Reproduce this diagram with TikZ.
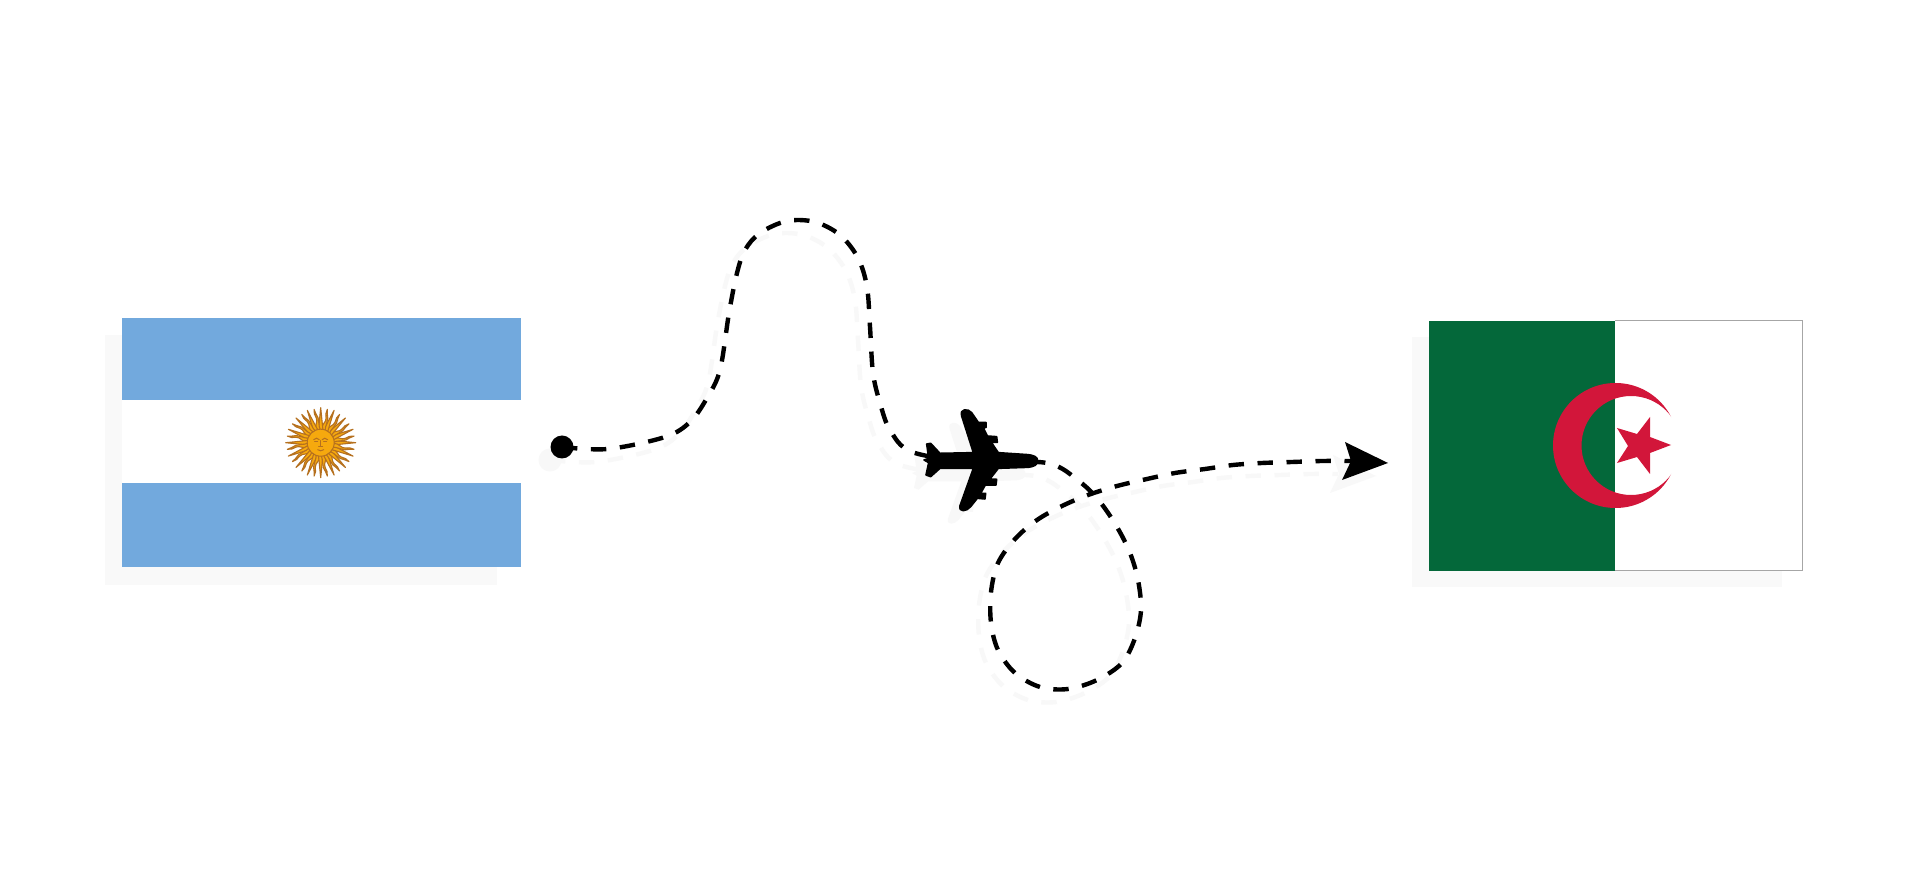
\documentclass[tikz,border=0pt]{standalone}
\usepackage{tikz}
\definecolor{skyb}{HTML}{72A9DD}
\definecolor{agreen}{HTML}{04683A}
\definecolor{ared}{HTML}{D2163A}
\definecolor{softgrey}{HTML}{F8F8F8}
\definecolor{flagshadow}{HTML}{F9F9F9}
\definecolor{sunfill}{HTML}{F6A90E}
\definecolor{sunedge}{HTML}{B5701F}
\tikzset{
  routeline/.style={line width=2.2pt,dash pattern=on 7.7pt off 6.8pt},
  rayline/.style={fill=sunfill,draw=sunedge,line width=0.55pt,line join=round},
  facemark/.style={draw=sunedge,line width=0.5pt,line cap=round}
}
\newcommand{\drawroute}[3]{%
  \draw[routeline,draw=#1] plot[smooth,tension=0.55] coordinates {(#2) (608,449) (665,437) (690,422) (707,398) (720,370) (729,313) (737,273) (745,250) (760,233) (787,221) (815,222) (840,235) (858,258) (867,287) (870,327) (873,373) (880,403) (890,430) (912,452) (975,462) (1047,463) (1080,482) (1100,502) (1117,527) (1130,553) (1138,580) (1141,610) (1135,638) (1122,663) (1097,680) (1068,689) (1040,687) (1015,673) (998,650) (991,623) (991,592) (998,563) (1015,539) (1037,520) (1062,506) (1088,495) (1117,486) (1147,479) (1175,473) (1205,469) (1233,465) (1262,463) (1292,462) (1322,461) (#3)};%
}
\newcommand{\planeshape}{%
  (413,212) .. controls (413,200) and (400,196) .. (385,194)
  -- (295,188) -- (274,157) -- (292,157) -- (290,140) -- (262,138) -- (250,113) -- (258,113) -- (258,97) -- (235,97)
  -- (215,68) .. controls (205,55) and (178,55) .. (185,78)
  -- (220,188) -- (120,190) -- (92,160) -- (80,162) -- (86,205) -- (72,210) -- (86,218) -- (78,255) -- (92,260) -- (120,235)
  -- (220,235) -- (180,347) .. controls (175,368) and (200,365) .. (212,350)
  -- (232,325) -- (255,327) -- (257,310) -- (242,310) -- (256,285) -- (288,285) -- (290,268) -- (270,267) -- (295,235)
  -- (385,232) .. controls (400,230) and (413,226) .. (413,212) -- cycle}
\begin{document}
\begin{tikzpicture}[x=0.5pt,y=-0.5pt]
\useasboundingbox (0,0) rectangle (1920,886);
\fill[white] (0,0) rectangle (1920,886);
% flag shadows
\fill[flagshadow] (105,335) rectangle (497,585);
\fill[flagshadow] (1412,337) rectangle (1782,587);
% Argentina
\fill[skyb] (121.5,318) rectangle (521,400);
\fill[white] (121.5,400) rectangle (521,483);
\fill[skyb] (121.5,483) rectangle (521,567);
\begin{scope}[shift={(320.7,442.7)}]
  \foreach \a in {0,22.5,...,337.5}{
    \fill[rayline,rotate=\a] (13,-2.2) -- (35,0) -- (13,2.2) -- cycle;
    \fill[rayline,rotate=\a+11.25] (13,-2) .. controls (18,-3) and (21,1.5) .. (25,0.5) .. controls (28,-0.2) and (31,-1.5) .. (34,0) .. controls (31,0) and (28,1.6) .. (25,2.3) .. controls (21,3) and (18,1) .. (13,2) -- cycle;
  }
  \fill[sunfill,draw=sunedge,line width=0.5pt] (0,0) circle (13.5);
  \draw[facemark] (-7,-3) .. controls (-5,-5) and (-3,-5) .. (-1.5,-3);
  \draw[facemark] (7,-3) .. controls (5,-5) and (3,-5) .. (1.5,-3);
  \draw[facemark] (-6,-1.5) -- (-3,-1.5) (6,-1.5) -- (3,-1.5);
  \draw[facemark] (0,-2) -- (0,3) (-2,3.5) -- (2,3.5);
  \draw[facemark] (-3,7) .. controls (-1,8.5) and (1,8.5) .. (3,7);
\end{scope}
% Algeria
\fill[white] (1429,321) rectangle (1802,571);
\fill[agreen] (1429,321) rectangle (1615,571);
\draw[black!35,line width=0.5pt] (1615,321) -- (1802,321) -- (1802,571) -- (1615,571);
\begin{scope}
  \clip (1615.5,445.5) circle (62.5);
  \fill[ared,even odd rule] (1540,370) rectangle (1700,520) (1631,445.5) circle (49.5);
\end{scope}
\fill[ared] (1650,417) -- (1650,437) -- (1671,445) -- (1650,453) -- (1650,474) -- (1637,457) -- (1617,463) -- (1628,446) -- (1617,428) -- (1637,434) -- cycle;
% route shadow
\begin{scope}[shift={(-12,13)}]
  \coordinate (sa) at (562,447);
  \coordinate (sb) at (1350,461);
  \drawroute{softgrey}{sa}{sb}
  \fill[softgrey] (562,447) circle (11.5);
  \fill[softgrey] (1388,463) -- (1345,442) -- (1351,461) -- (1342,480) -- cycle;
\end{scope}
\begin{scope}[shift={(888,403)},scale=0.3333]
  \fill[softgrey] \planeshape;
\end{scope}
% route
\node[circle,fill=black,inner sep=0pt,minimum size=11.5pt] (start) at (562,447) {};
\coordinate (head) at (1351,461);
\drawroute{black}{start.center}{head}
\fill[black] (1388,463) -- (1345,442) -- (head) -- (1342,480) -- cycle;
% plane
\begin{scope}[shift={(900,390)},scale=0.3333]
  \filldraw[black,line width=0.8pt,line join=round] \planeshape;
\end{scope}
\end{tikzpicture}
\end{document}
